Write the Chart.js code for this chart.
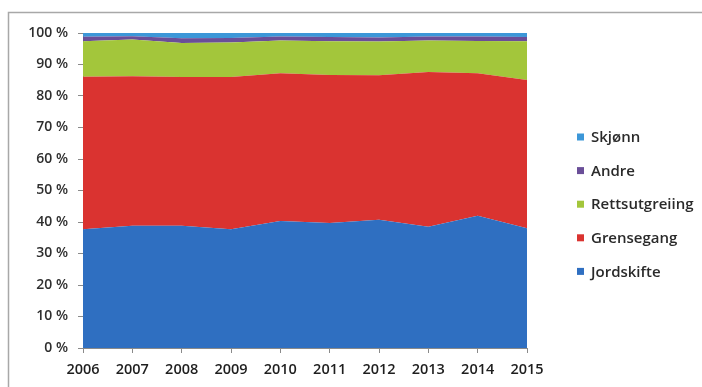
<!DOCTYPE html>
<html>
<head>
<meta charset="utf-8">
<style>
  html, body { margin: 0; padding: 0; background: #fff; }
  #wrap { position: relative; width: 702px; height: 387px; }
</style>
<script src="https://cdn.jsdelivr.net/npm/chart.js@4.4.0/dist/chart.umd.min.js"></script>
</head>
<body>
<div id="wrap"><canvas id="myChart" width="702" height="387"></canvas></div>
<script>
var years = ["2006", "2007", "2008", "2009", "2010", "2011", "2012", "2013", "2014", "2015"];

// share of cases per type, percent of total each year
var jordskifte     = [37.7, 38.8, 38.8, 37.7, 40.3, 39.7, 40.7, 38.5, 42.0, 38.0];
var grensegang     = [48.4, 47.5, 47.2, 48.3, 46.9, 47.0, 45.9, 49.1, 45.2, 47.1];
var rettsutgreiing = [11.3, 11.6, 10.8, 11.0, 10.4, 10.7, 10.7, 10.0, 10.3, 12.3];
var andre          = [1.4, 1.1, 1.5, 1.4, 1.3, 1.3, 1.3, 1.3, 1.4, 1.3];
var skjonn         = [1.2, 1.0, 1.7, 1.6, 1.1, 1.3, 1.4, 1.1, 1.1, 1.3];

var yTicks = [0, 10, 20, 30, 40, 50, 60, 70, 80, 90, 100];

var FONT = "'Open Sans', Lato, sans-serif";

function area(label, data, color, fill) {
    return {
        label: label,
        data: data,
        backgroundColor: color,
        borderColor: color,
        borderWidth: 0,
        pointRadius: 0,
        tension: 0,
        fill: fill
    };
}

// frame around the chart and the legend on the right
var extras = {
    id: "extras",
    beforeDraw: function (chart) {
        var c = chart.ctx;
        c.save();
        c.strokeStyle = "#a8a8a8";
        c.lineWidth = 1.5;
        c.beginPath();
        c.moveTo(8.5, 387);
        c.lineTo(8.5, 12.5);
        c.lineTo(702, 12.5);
        c.stroke();
        c.restore();
    },
    afterDraw: function (chart) {
        var c = chart.ctx;
        var sets = chart.data.datasets.slice().reverse();
        c.save();
        c.font = "600 15px " + FONT;
        c.textBaseline = "middle";
        c.textAlign = "left";
        sets.forEach(function (ds, i) {
            var y = 137 + i * 33.6;
            c.fillStyle = ds.backgroundColor;
            c.fillRect(577, y - 3.5, 7, 7);
            c.fillStyle = "#2a2a2a";
            c.fillText(ds.label, 591, y + 1);
        });
        c.restore();
    }
};

var ctx = document.getElementById("myChart").getContext("2d");

var chart = new Chart(ctx, {
    type: "line",
    data: {
        labels: years,
        datasets: [
            area("Jordskifte", jordskifte, "#2f6fc1", "origin"),
            area("Grensegang", grensegang, "#da3330", "-1"),
            area("Rettsutgreiing", rettsutgreiing, "#a3c63b", "-1"),
            area("Andre", andre, "#6a4e98", "-1"),
            area("Skjønn", skjonn, "#3c97d8", "-1")
        ]
    },
    options: {
        responsive: false,
        animation: false,
        layout: {
            padding: { left: 0, top: 33, right: 175, bottom: 0 }
        },
        plugins: {
            legend: { display: false },
            tooltip: { enabled: false }
        },
        scales: {
            x: {
                offset: false,
                grid: {
                    drawOnChartArea: false,
                    drawTicks: true,
                    tickLength: 5,
                    color: "#8a8a8a"
                },
                border: { display: true, color: "#8a8a8a" },
                ticks: {
                    color: "#1e1e1e",
                    font: { family: FONT, size: 14.5, weight: "600" },
                    padding: 8,
                    maxRotation: 0,
                    autoSkip: false
                },
                afterFit: function (scale) {
                    scale.height = 39;
                }
            },
            y: {
                stacked: true,
                min: 0,
                max: 100,
                afterBuildTicks: function (scale) {
                    scale.ticks = yTicks.map(function (v) { return { value: v }; });
                },
                grid: {
                    drawOnChartArea: false,
                    drawTicks: true,
                    tickLength: 5,
                    color: "#8a8a8a"
                },
                border: { display: true, color: "#8a8a8a" },
                ticks: {
                    color: "#2e2e2e",
                    font: { family: FONT, size: 14, weight: "600" },
                    padding: 10,
                    callback: function (v) { return v + " %"; }
                },
                afterFit: function (scale) {
                    scale.width = 83;
                }
            }
        }
    },
    plugins: [extras]
});
</script>
</body>
</html>
